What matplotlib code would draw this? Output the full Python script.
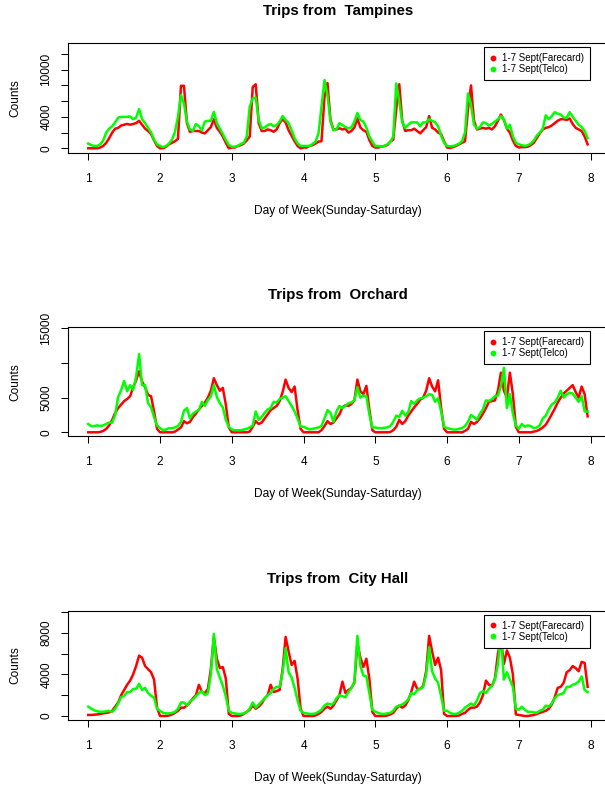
import numpy as np
import matplotlib
matplotlib.use('Agg')
import matplotlib.pyplot as plt
from matplotlib.lines import Line2D

plt.rcParams['font.family'] = ['Liberation Sans', 'DejaVu Sans']

# hourly counts, 1-7 Sept (Sunday..Saturday), one row of 24 per day
tampines_farecard = [
    0, 0, 0, 0, 100, 300, 700, 1300, 2000, 2500, 2600, 2900, 3000, 3100, 3000, 3100, 3200, 3500, 3000, 2500, 2200, 1800, 1000, 300,
    0, 0, 200, 500, 700, 900, 1200, 7950, 7950, 3200, 2100, 2200, 2200, 2200, 2000, 1900, 2300, 2700, 3700, 2600, 2100, 1500, 700, 0,
    100, 100, 300, 400, 600, 1000, 1500, 7800, 8150, 3200, 2200, 2200, 2400, 2300, 2100, 2400, 3200, 3700, 3300, 2300, 1600, 900, 300, 0,
    100, 100, 300, 400, 600, 850, 900, 6500, 8300, 3600, 2400, 2400, 2550, 2400, 2500, 2000, 2200, 2650, 3800, 2650, 2300, 2100, 1050, 300,
    100, 100, 200, 300, 400, 850, 1100, 5000, 8150, 3500, 2200, 2300, 2300, 2500, 2200, 1900, 2300, 2700, 4100, 2600, 2400, 2000, 1800, 900,
    100, 50, 150, 300, 500, 700, 900, 5000, 8000, 3500, 2400, 2500, 2600, 2500, 2600, 2400, 2800, 3500, 4300, 3600, 2500, 2000, 1000, 300,
    100, 150, 150, 200, 400, 700, 1300, 1900, 2400, 2600, 2700, 2900, 3200, 3500, 3700, 3700, 3600, 3800, 3100, 2600, 2400, 2200, 1500, 500,
]
tampines_telco = [
    600, 400, 300, 300, 500, 1000, 2000, 2500, 2800, 3300, 3900, 4000, 4000, 4000, 4050, 3700, 3900, 5000, 3700, 3200, 2600, 2000, 1100, 500,
    300, 150, 300, 600, 1100, 2100, 4000, 6770, 5700, 3400, 2400, 2200, 3100, 2800, 2300, 3400, 3500, 3500, 4650, 3200, 2500, 1800, 1060, 420,
    200, 200, 300, 550, 700, 1500, 5300, 6350, 6470, 3600, 2550, 2650, 2950, 3100, 2800, 2950, 3400, 4100, 3600, 3200, 2300, 1270, 630, 300,
    300, 300, 300, 550, 850, 1900, 5300, 8670, 6770, 3400, 2300, 2400, 3200, 2950, 2700, 2550, 2650, 3400, 4500, 3600, 3400, 2650, 1500, 850,
    300, 300, 200, 300, 500, 800, 1500, 8250, 6000, 3300, 2600, 3000, 3300, 3300, 3300, 2800, 3300, 3300, 3700, 3500, 3300, 2800, 1600, 700,
    300, 250, 300, 400, 600, 900, 2000, 6980, 5500, 3000, 2500, 2700, 3300, 3200, 2900, 3100, 3400, 3700, 4100, 3700, 2500, 3000, 1500, 700,
    500, 400, 300, 400, 600, 1000, 1600, 2000, 2500, 4200, 3700, 4100, 4600, 4400, 4300, 3900, 3900, 4600, 4000, 3500, 3000, 2700, 2200, 1300,
]
orchard_farecard = [
    0, 0, 0, 0, 50, 200, 500, 1000, 1800, 2800, 3500, 4000, 4500, 4800, 5200, 6500, 7500, 8800, 7300, 6500, 5400, 5200, 3000, 500,
    0, 0, 0, 0, 0, 100, 400, 700, 1600, 1300, 1500, 2200, 2700, 3300, 3800, 4300, 5000, 6000, 7800, 6800, 6000, 6400, 4000, 700,
    0, 0, 0, 0, 0, 0, 100, 800, 1600, 1200, 1400, 2000, 2600, 3200, 3500, 3800, 4500, 5800, 7600, 6400, 5800, 6600, 3200, 500,
    0, 0, 0, 0, 0, 0, 300, 900, 1600, 1200, 1400, 2000, 2600, 3600, 3900, 3800, 4100, 4600, 7600, 5900, 5500, 6700, 3300, 300,
    0, 0, 0, 0, 0, 50, 300, 800, 1800, 1200, 1600, 2400, 3000, 3600, 4100, 4700, 5000, 6000, 7800, 6600, 5900, 7500, 3500, 500,
    0, 0, 0, 0, 0, 0, 200, 500, 1500, 1200, 1500, 2000, 2700, 3500, 4400, 4500, 4600, 6000, 8600, 6000, 5000, 8600, 5500, 800,
    0, 0, 0, 0, 0, 100, 200, 400, 700, 1100, 1800, 2600, 3400, 4300, 5000, 5600, 6000, 6400, 6800, 5800, 5000, 6600, 5500, 2300,
]
orchard_telco = [
    1200, 900, 900, 1000, 900, 1000, 1200, 1400, 1400, 2500, 5100, 6100, 7400, 5900, 6800, 6100, 8000, 11300, 6800, 6800, 4200, 3600, 2200, 1000,
    600, 300, 400, 600, 600, 700, 900, 1500, 3100, 3500, 2000, 2700, 3000, 3200, 4400, 3800, 4650, 5200, 6800, 5100, 4200, 3600, 1800, 800,
    400, 300, 300, 300, 400, 500, 700, 1000, 3000, 1800, 2200, 2800, 3300, 3500, 4400, 4300, 4800, 5000, 5200, 4500, 3800, 3000, 2000, 800,
    800, 600, 400, 500, 600, 700, 900, 2000, 3200, 2800, 1500, 3000, 3800, 3500, 3800, 4200, 4300, 4600, 6500, 5000, 5300, 5200, 2600, 700,
    700, 600, 600, 650, 700, 900, 1500, 2400, 2200, 3100, 2400, 2900, 4500, 4100, 4600, 4900, 5000, 5200, 5500, 5400, 4400, 4900, 3000, 800,
    600, 500, 400, 400, 500, 600, 900, 1500, 2500, 2200, 1800, 2700, 3300, 4600, 4500, 4800, 5200, 5300, 6600, 9300, 3500, 5500, 2700, 1000,
    500, 1200, 800, 1000, 900, 600, 700, 1000, 2000, 2400, 3300, 4000, 4300, 5000, 6000, 5000, 5500, 5700, 5600, 5000, 4400, 5200, 3000, 3000,
]
cityhall_farecard = [
    100, 100, 120, 150, 200, 250, 300, 350, 500, 900, 1300, 2000, 2500, 3000, 3400, 4000, 4800, 5800, 5600, 4800, 4500, 4200, 3500, 800,
    0, 0, 0, 50, 150, 300, 500, 800, 800, 1000, 1300, 1700, 2000, 3000, 2300, 2200, 2600, 4500, 7600, 5500, 4600, 4700, 3600, 200,
    0, 0, 0, 50, 200, 400, 600, 1000, 700, 900, 1200, 1700, 2000, 3000, 2300, 2400, 2500, 4500, 7600, 6200, 4900, 5300, 3600, 700,
    0, 0, 0, 0, 50, 200, 400, 700, 900, 700, 1000, 1500, 2000, 3300, 2200, 2500, 2700, 3200, 7000, 5600, 4700, 5500, 3600, 400,
    0, 0, 0, 0, 50, 150, 300, 700, 1000, 800, 1000, 1500, 2300, 3300, 2600, 2600, 2900, 4300, 7700, 6200, 4900, 5600, 4400, 200,
    0, 0, 0, 0, 50, 200, 300, 600, 800, 800, 900, 1300, 2000, 3400, 3000, 2900, 3600, 6000, 7300, 5000, 6300, 5600, 4000, 150,
    100, 50, 0, 0, 50, 100, 200, 300, 400, 500, 700, 1100, 1800, 2700, 2800, 3200, 4200, 4400, 4800, 4600, 4300, 5200, 5100, 2800,
]
cityhall_telco = [
    900, 700, 550, 450, 400, 400, 450, 500, 400, 700, 1200, 1800, 1950, 2300, 2300, 2600, 2600, 3100, 2500, 2700, 2200, 1950, 1750, 700,
    500, 300, 250, 250, 300, 400, 700, 1300, 1300, 1000, 1400, 1600, 1900, 2200, 2400, 2000, 2200, 4000, 7900, 4500, 3700, 2900, 1900, 500,
    300, 250, 200, 200, 250, 400, 700, 1300, 800, 1100, 1400, 1700, 2000, 2200, 2600, 2800, 2800, 4200, 6500, 4200, 3700, 2700, 1500, 500,
    300, 250, 200, 200, 250, 400, 600, 1000, 1200, 1100, 1200, 1700, 2000, 1900, 1800, 2300, 2700, 3300, 7700, 4800, 3900, 3800, 2200, 600,
    400, 300, 200, 200, 250, 300, 500, 900, 1000, 1100, 1300, 1600, 2200, 2100, 2500, 2600, 2800, 4000, 6600, 4300, 3600, 3200, 1900, 500,
    500, 300, 200, 200, 300, 500, 800, 1000, 1200, 1000, 1500, 2200, 2400, 2200, 2600, 2900, 3500, 5000, 7800, 3500, 4200, 3500, 2800, 700,
    600, 900, 600, 400, 400, 350, 300, 500, 600, 1000, 900, 1200, 1700, 2000, 2100, 2200, 2800, 2800, 3000, 3100, 3300, 3800, 2500, 2300,
]

stations = ['Tampines', 'Orchard', 'City Hall']
series = [(tampines_farecard, tampines_telco),
          (orchard_farecard, orchard_telco),
          (cityhall_farecard, cityhall_telco)]
y_ticks = [[0, 2000, 4000, 6000, 8000, 10000, 12000],
           [0, 5000, 10000, 15000],
           [0, 2000, 4000, 6000, 8000, 10000]]
y_labels_shown = [[0, 4000, 10000], [0, 5000, 15000], [0, 4000, 8000]]
y_limits = [(-560, 13360), (-534, 15144), (-336, 10086)]
legend_labels = ['1-7 Sept(Farecard)', '1-7 Sept(Telco)']

W, H = 605, 788
# plot boxes in pixels: (top, bottom)
boxes = [(43.3, 152.7), (327.3, 436.0), (611.0, 719.5)]
box_left, box_right = 68.3, 607.6

fig = plt.figure(figsize=(W / 100, H / 100), dpi=100)

for i, station in enumerate(stations):
    top, bottom = boxes[i]
    box_h = bottom - top
    ax = fig.add_axes([box_left / W, 1 - bottom / H,
                       (box_right - box_left) / W, box_h / H])
    farecard, telco = series[i]
    hours = np.arange(len(farecard))
    day = 1 + hours / 24.0
    ax.plot(day, farecard, color='#ff0000', lw=1.8)
    ax.plot(day, telco, color='#00ff00', lw=1.8)

    ax.set_xlim(1 - 0.04 * (day[-1] - 1), day[-1] + 0.04 * (day[-1] - 1))
    ax.set_ylim(*y_limits[i])
    ax.set_xticks(range(1, 9))
    ax.set_yticks(y_ticks[i])
    ax.set_yticklabels([str(t) if t in y_labels_shown[i] else '' for t in y_ticks[i]],
                       rotation=90, va='center')
    ax.tick_params(axis='x', length=5, width=0.75, pad=9.5, labelsize=8.6)
    ax.tick_params(axis='y', length=5, width=0.75, pad=6.5, labelsize=8.6)
    for s in ax.spines.values():
        s.set_linewidth(0.8)

    ax.set_title('Trips from  ' + station, fontsize=10.8, fontweight='bold',
                 va='center', y=1 + 32 / box_h, pad=0)
    ax.set_xlabel('Day of Week(Sunday-Saturday)', fontsize=8.6, va='center')
    ax.xaxis.set_label_coords(0.5, -58 / box_h)
    ax.set_ylabel('Counts', fontsize=8.6, va='center')
    ax.yaxis.set_label_coords(-(box_left - 15) / (box_right - box_left), 0.5)

    handles = [Line2D([], [], ls='none', marker='o', ms=3.2, color=c, mec=c)
               for c in ('#ff0000', '#00ff00')]
    leg = ax.legend(handles, legend_labels, loc='upper right',
                    bbox_to_anchor=((590 - box_left) / (box_right - box_left), 1 - 4 / box_h),
                    borderaxespad=0, fontsize=7, frameon=True, fancybox=False,
                    framealpha=1, edgecolor='black', borderpad=0.6,
                    handlelength=0.7, handletextpad=0.6, labelspacing=0.1)
    leg.get_frame().set_linewidth(0.8)

fig.savefig('out.png', dpi=100)
